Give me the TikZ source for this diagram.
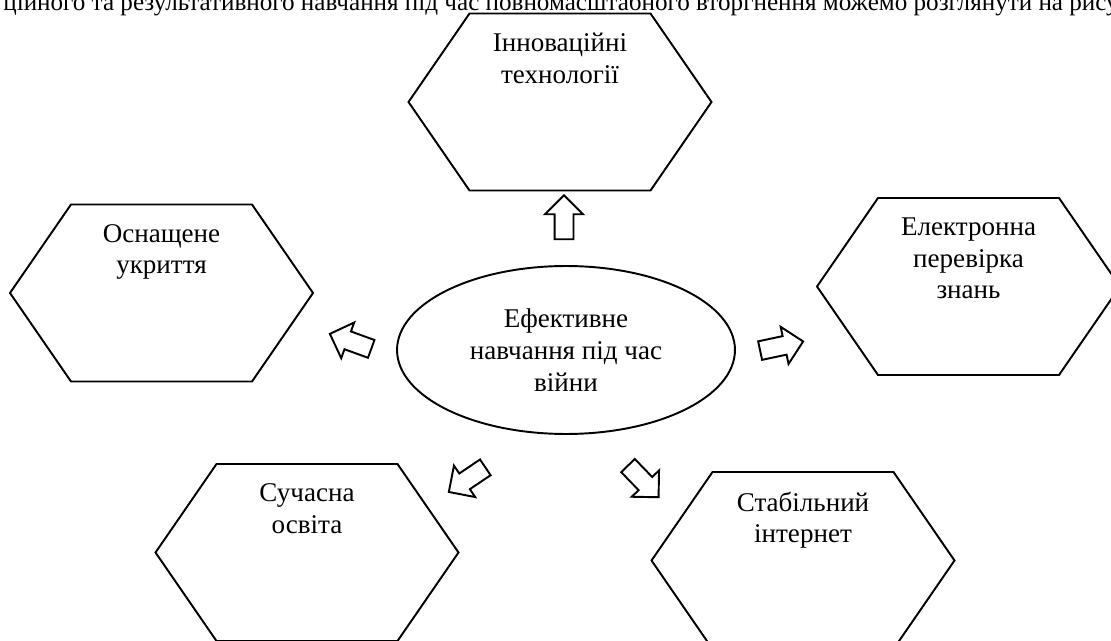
\documentclass[tikz,border=0pt]{standalone}
\usepackage{fontspec}
\setmainfont{Liberation Serif}
\usetikzlibrary{shapes.geometric,shapes.arrows,positioning}

\newcommand{\diagfont}{\fontsize{15.4}{18}\selectfont}
\tikzset{
  hexa/.pic={
    \draw[line width=1.1pt] (-151.5,0) -- (-90.5,-88.5) -- (90.5,-88.5)
      -- (151.5,0) -- (90.5,88.5) -- (-90.5,88.5) -- cycle;
    \coordinate (-top) at (0,-88.5);
  },
  hextext/.style={align=center, inner sep=0pt, font=\diagfont},
  mainoval/.style={ellipse, draw, line width=1.1pt, inner sep=0pt,
    minimum width=6.76cm, minimum height=3.36cm, align=center, font=\diagfont},
  blockarrow/.style={single arrow, draw, line width=1.1pt, inner xsep=0pt,
    inner ysep=0.17cm, minimum height=0.88cm,
    single arrow head extend=0.19cm, single arrow tip angle=90}
}

\begin{document}
\begin{tikzpicture}[x=0.02cm, y=-0.02cm]
\useasboundingbox (0,0) rectangle (1111,641);
\clip (0,0) rectangle (1111,641);

% text line of the page above the picture
\node[anchor=base west, inner sep=0pt, font=\fontsize{14.3}{17}\selectfont] (pageline) at (3,11)
  {ційного та результативного навчання під час повномасштабного вторгнення можемо розглянути на рису};

% centre
\node[mainoval] (war) at (566,350) {Ефективне\\навчання під час\\війни};

% hexagons
\pic (innov)   at (560,102)     {hexa};
\pic (shelter) at (161.5,293)   {hexa};
\pic (exam)    at (968.5,286.5) {hexa};
\pic (modern)  at (307,552.5)   {hexa};
\pic (net)     at (803,560.5)   {hexa};

\node[hextext, below=11pt of innov-top]   (innovtxt)   {Інноваційні\\технології};
\node[hextext, below=11pt of shelter-top] (sheltertxt) {Оснащене\\укриття};
\node[hextext, below=11pt of exam-top]    (examtxt)    {Електронна\\перевірка\\знань};
\node[hextext, below=11pt of modern-top]  (moderntxt)  {Сучасна\\освіта};
\node[hextext, below=11pt of net-top]     (nettxt)     {Стабільний\\інтернет};

% block arrows
\node[blockarrow, rotate=90]  (arrup)    at (564,222) {};
\node[blockarrow, rotate=160] (arrleft)  at (355,343) {};
\node[blockarrow, rotate=12]  (arrright) at (777,347) {};
\node[blockarrow, rotate=214] (arrdl)    at (471,477) {};
\node[blockarrow, rotate=-46] (arrdr)    at (640,478) {};
\end{tikzpicture}
\end{document}
